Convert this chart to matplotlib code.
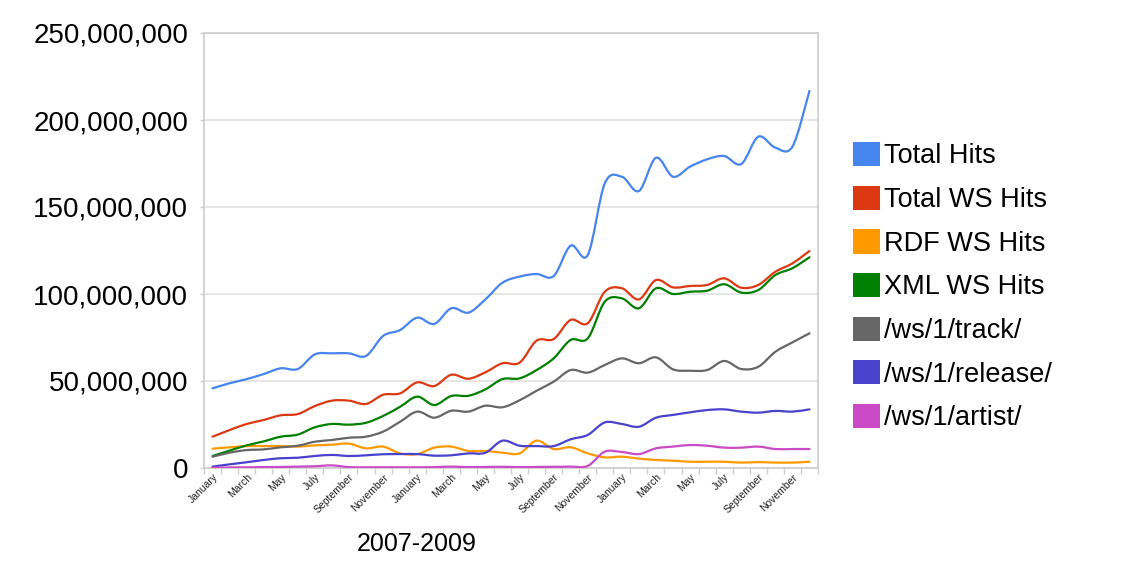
#!/usr/bin/env python
# web service hits per month, 2007-2009, smooth lines like the old google chart
import numpy as np
import matplotlib.pyplot as plt
from matplotlib.path import Path
from matplotlib.patches import PathPatch, Patch
from matplotlib.ticker import FuncFormatter

plt.rcParams['font.family'] = ['Liberation Sans', 'DejaVu Sans']

months = ['January', 'February', 'March', 'April', 'May', 'June', 'July',
          'August', 'September', 'October', 'November', 'December'] * 3

# values in millions of hits
total_hits = [45.8, 48.7, 51.1, 54.0, 57.3, 56.9, 65.3, 65.9, 65.9, 64.4, 75.9, 79.3,
              86.4, 82.8, 91.8, 89.3, 96.9, 106.5, 110.0, 111.5, 110.3, 127.8, 122.4, 163.6,
              167.4, 159.2, 178.3, 167.4, 173.2, 177.4, 179.3, 174.7, 190.4, 184.1, 184.7, 216.7]
total_ws = [18.0, 21.8, 25.3, 27.6, 30.3, 31.0, 35.6, 38.7, 38.7, 36.8, 42.1, 42.9,
            49.2, 47.1, 53.6, 51.3, 55.0, 60.2, 60.5, 73.2, 74.1, 85.1, 83.2, 101.3,
            103.3, 96.9, 108.0, 103.8, 104.6, 105.2, 109.0, 103.6, 105.2, 112.8, 117.6, 124.7]
rdf_ws = [11.1, 11.9, 12.6, 12.6, 12.6, 12.3, 13.0, 13.4, 14.0, 11.3, 12.3, 8.4,
          8.0, 11.7, 12.3, 9.8, 9.8, 8.8, 8.4, 15.7, 10.9, 11.9, 8.4, 6.1,
          6.5, 5.4, 4.6, 4.2, 3.6, 3.6, 3.6, 3.1, 3.4, 3.1, 3.1, 3.6]
xml_ws = [6.9, 10.0, 13.0, 15.3, 18.0, 19.2, 23.4, 25.3, 24.9, 26.0, 29.9, 35.2,
          41.0, 36.2, 41.4, 41.5, 45.2, 51.1, 51.5, 56.3, 63.0, 73.6, 74.5, 95.6,
          97.5, 91.8, 103.3, 100.0, 101.3, 101.9, 105.6, 100.8, 102.3, 110.9, 114.8, 121.1]
track = [6.5, 8.8, 10.3, 10.7, 11.9, 12.8, 15.1, 16.1, 17.4, 18.0, 20.9, 26.6,
         32.4, 28.9, 32.9, 32.4, 35.8, 34.9, 38.9, 44.4, 49.6, 56.3, 54.8, 59.2,
         63.0, 60.2, 63.6, 56.7, 55.9, 56.3, 61.5, 56.9, 58.2, 66.8, 72.2, 77.4]
release = [0.8, 2.1, 3.3, 4.6, 5.6, 5.9, 6.9, 7.5, 6.9, 7.3, 7.9, 8.0,
           8.0, 7.1, 7.3, 8.4, 8.8, 15.7, 12.8, 12.6, 12.6, 16.5, 19.0, 26.2,
           25.3, 23.7, 28.9, 30.5, 32.0, 33.3, 33.7, 32.4, 31.8, 32.8, 32.4, 33.7]
artist = [0.2, 0.3, 0.4, 0.5, 0.6, 0.8, 1.0, 1.5, 0.5, 0.4, 0.4, 0.4,
          0.4, 0.5, 0.8, 0.5, 0.6, 0.7, 0.5, 0.6, 0.7, 0.8, 1.2, 9.4,
          9.2, 8.0, 11.3, 12.3, 13.2, 12.8, 11.7, 11.7, 12.3, 10.9, 10.9, 10.9]

series = [('Total Hits', total_hits, '#4684EE'),
          ('Total WS Hits', total_ws, '#DC3912'),
          ('RDF WS Hits', rdf_ws, '#FF9900'),
          ('XML WS Hits', xml_ws, '#008000'),
          ('/ws/1/track/', track, '#666666'),
          ('/ws/1/release/', release, '#4942CC'),
          ('/ws/1/artist/', artist, '#CB4AC5')]


def smooth_path(x, y):
    # catmull-rom through the points, as bezier segments
    pts = np.column_stack([x, y])
    n = len(pts)
    verts = [pts[0]]
    codes = [Path.MOVETO]
    for i in range(n - 1):
        p0 = pts[max(i - 1, 0)]
        p1 = pts[i]
        p2 = pts[i + 1]
        p3 = pts[min(i + 2, n - 1)]
        verts += [p1 + (p2 - p0) / 6., p2 - (p3 - p1) / 6., p2]
        codes += [Path.CURVE4] * 3
    return Path(verts, codes)


fig = plt.figure(figsize=(11.26, 5.72), dpi=100)
ax = fig.add_axes([204 / 1126., 1 - 468 / 572., 614 / 1126., 435 / 572.])

x = np.arange(len(months))
handles = []
for k, (name, vals, col) in enumerate(series):
    y = np.array(vals) * 1e6
    ax.add_patch(PathPatch(smooth_path(x, y), fill=False, edgecolor=col,
                           lw=1.6, capstyle='round', joinstyle='round', zorder=3 + k))
    handles.append(Patch(facecolor=col, edgecolor='none', label=name))

ax.set_xlim(-0.5, len(months) - 0.5)
ax.set_ylim(0, 250e6)
ax.set_yticks(np.arange(0, 251e6, 50e6))
ax.yaxis.set_major_formatter(FuncFormatter(lambda v, p: '{:,.0f}'.format(v)))
ax.tick_params(axis='y', length=3, color='#cccccc', width=1, pad=8.5,
               labelsize=20, labelcolor='black')

ax.set_xticks(x[::2])
ax.set_xticklabels(months[::2], rotation=45, ha='right', va='top',
                   rotation_mode='anchor', fontsize=7.5, color='#222222')
ax.set_xticks(np.arange(-0.5, len(months), 1), minor=True)
ax.tick_params(axis='x', which='major', length=0, pad=3)
ax.tick_params(axis='x', which='minor', length=4, color='#cccccc', width=1)

ax.grid(axis='y', color='#e2e2e2', lw=1.2)
ax.set_axisbelow(True)
for s in ax.spines.values():
    s.set_color('#cccccc')
    s.set_linewidth(1.2)

fig.text(417 / 1126., 1 - 544 / 572., '2007-2009', ha='center', va='center', fontsize=18)

fig.legend(handles=handles, loc='upper left', bbox_to_anchor=(853 / 1126., 1 - 142 / 572.),
           frameon=False, fontsize=19.5, handlelength=1.0, handleheight=1.0,
           handletextpad=0.15, labelspacing=0.60, borderpad=0, borderaxespad=0)

fig.savefig('out.png', dpi=100)
